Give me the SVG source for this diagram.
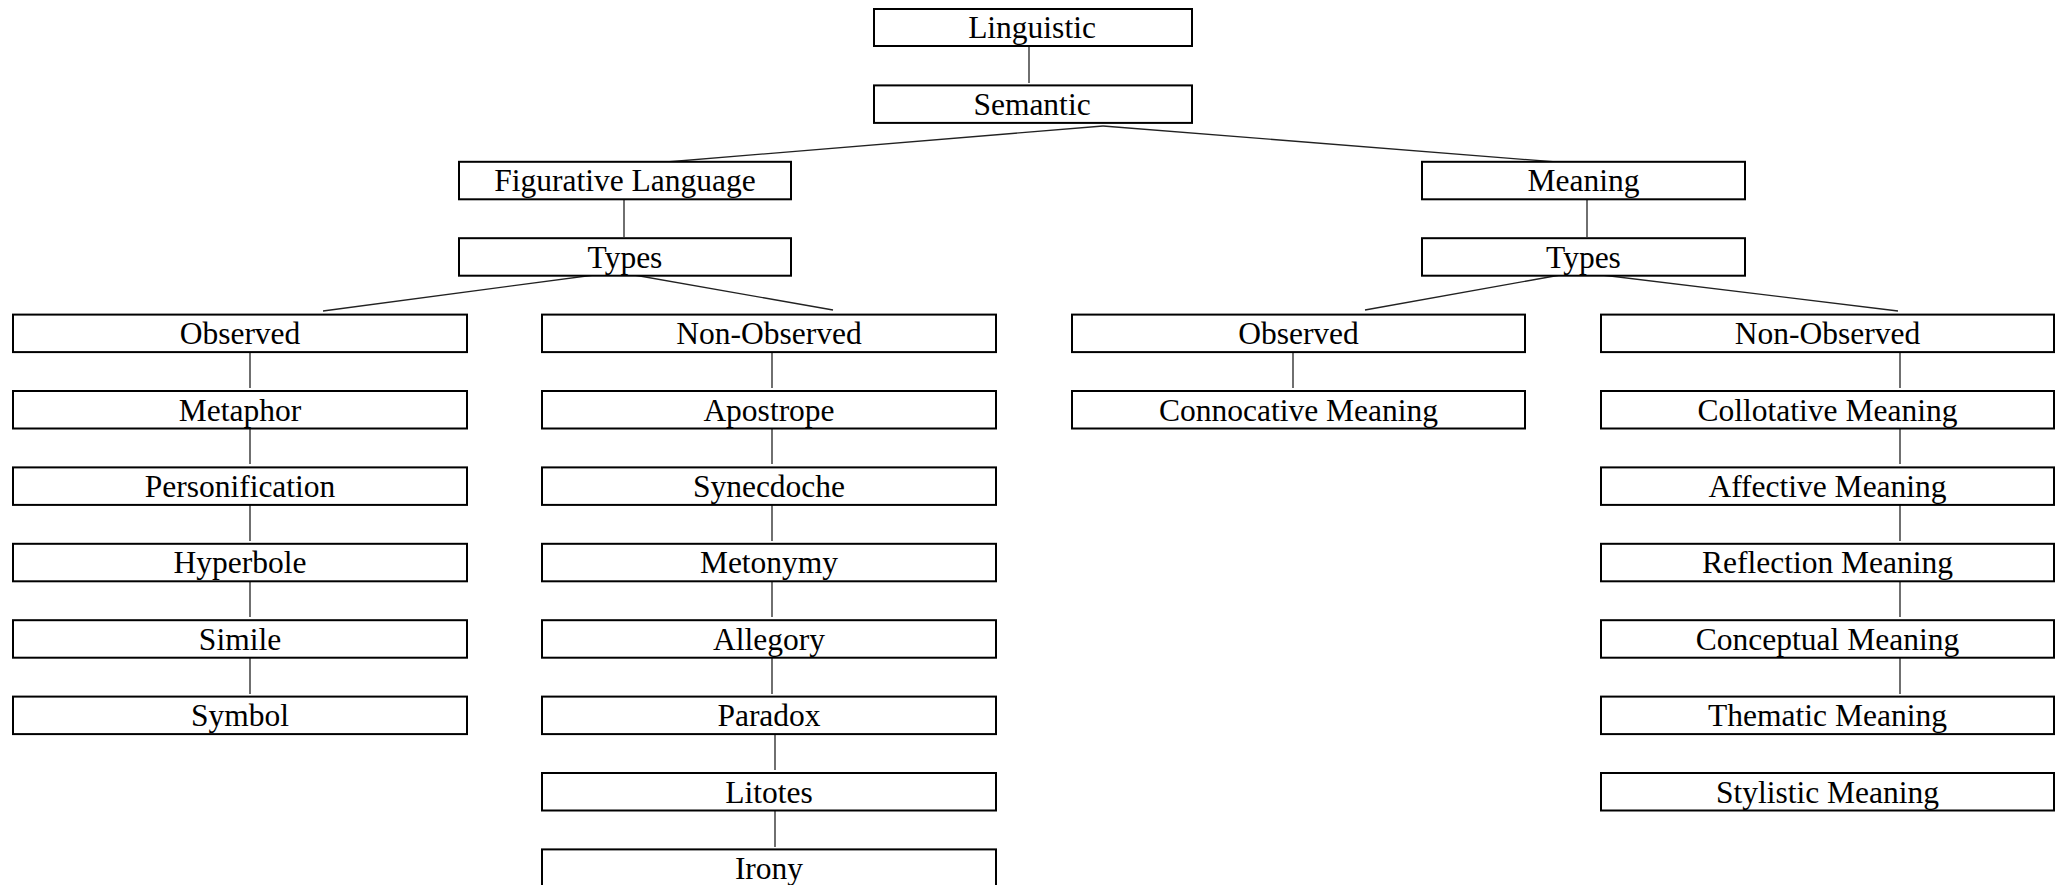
<svg xmlns="http://www.w3.org/2000/svg" width="2067" height="885" viewBox="0 0 2067 885">
<style>
rect.n{fill:#fff;stroke:#000;stroke-width:2}
text{font-family:"Liberation Serif","Times New Roman",serif;font-size:31.5px;fill:#000;text-anchor:middle}
#connectors line{stroke:#222;stroke-width:1.3;fill:none}
</style>
<rect width="2067" height="885" fill="#fff"/>
<g id="connectors">
<line x1="1029" y1="43" x2="1029" y2="83"/>
<line x1="1103" y1="126" x2="642" y2="164"/>
<line x1="1103" y1="126" x2="1582" y2="164"/>
<line x1="624" y1="198" x2="624" y2="237"/>
<line x1="1587" y1="199" x2="1587" y2="237"/>
<line x1="617" y1="272" x2="323" y2="311"/>
<line x1="617" y1="272" x2="833" y2="310"/>
<line x1="1577" y1="272" x2="1365" y2="310"/>
<line x1="1577" y1="272" x2="1898" y2="311"/>
<line x1="250" y1="350" x2="250" y2="388"/>
<line x1="250" y1="426" x2="250" y2="464"/>
<line x1="250" y1="502" x2="250" y2="541"/>
<line x1="250" y1="579" x2="250" y2="617"/>
<line x1="250" y1="655" x2="250" y2="694"/>
<line x1="772" y1="350" x2="772" y2="388"/>
<line x1="772" y1="426" x2="772" y2="464"/>
<line x1="772" y1="502" x2="772" y2="541"/>
<line x1="772" y1="579" x2="772" y2="617"/>
<line x1="772" y1="655" x2="772" y2="694"/>
<line x1="775" y1="732" x2="775" y2="770"/>
<line x1="775" y1="808" x2="775" y2="847"/>
<line x1="1293" y1="350" x2="1293" y2="388"/>
<line x1="1900" y1="350" x2="1900" y2="388"/>
<line x1="1900" y1="426" x2="1900" y2="464"/>
<line x1="1900" y1="502" x2="1900" y2="541"/>
<line x1="1900" y1="579" x2="1900" y2="617"/>
<line x1="1900" y1="655" x2="1900" y2="694"/>
</g>
<g id="n-linguistic"><rect class="n" x="874" y="9" width="318" height="37"/><text x="1032" y="38">Linguistic</text></g>
<g id="n-semantic"><rect class="n" x="874" y="85.4" width="318" height="37.5"/><text x="1032" y="114.9">Semantic</text></g>
<g id="n-figurative"><rect class="n" x="459" y="161.8" width="332" height="37.5"/><text x="625" y="191.3">Figurative Language</text></g>
<g id="n-types-left"><rect class="n" x="459" y="238.2" width="332" height="37.5"/><text x="625" y="267.7">Types</text></g>
<g id="n-meaning"><rect class="n" x="1422" y="161.8" width="323" height="37.5"/><text x="1583.5" y="191.3">Meaning</text></g>
<g id="n-types-right"><rect class="n" x="1422" y="238.2" width="323" height="37.5"/><text x="1583.5" y="267.7">Types</text></g>

<g id="n-observed-1"><rect class="n" x="13" y="314.6" width="454" height="37.5"/><text x="240" y="344.1">Observed</text></g>
<g id="n-metaphor"><rect class="n" x="13" y="391" width="454" height="37.5"/><text x="240" y="420.5">Metaphor</text></g>
<g id="n-personification"><rect class="n" x="13" y="467.4" width="454" height="37.5"/><text x="240" y="496.9">Personification</text></g>
<g id="n-hyperbole"><rect class="n" x="13" y="543.8" width="454" height="37.5"/><text x="240" y="573.3">Hyperbole</text></g>
<g id="n-simile"><rect class="n" x="13" y="620.2" width="454" height="37.5"/><text x="240" y="649.7">Simile</text></g>
<g id="n-symbol"><rect class="n" x="13" y="696.6" width="454" height="37.5"/><text x="240" y="726.1">Symbol</text></g>

<g id="n-nonobserved-1"><rect class="n" x="542" y="314.6" width="454" height="37.5"/><text x="769" y="344.1">Non-Observed</text></g>
<g id="n-apostrope"><rect class="n" x="542" y="391" width="454" height="37.5"/><text x="769" y="420.5">Apostrope</text></g>
<g id="n-synecdoche"><rect class="n" x="542" y="467.4" width="454" height="37.5"/><text x="769" y="496.9">Synecdoche</text></g>
<g id="n-metonymy"><rect class="n" x="542" y="543.8" width="454" height="37.5"/><text x="769" y="573.3">Metonymy</text></g>
<g id="n-allegory"><rect class="n" x="542" y="620.2" width="454" height="37.5"/><text x="769" y="649.7">Allegory</text></g>
<g id="n-paradox"><rect class="n" x="542" y="696.6" width="454" height="37.5"/><text x="769" y="726.1">Paradox</text></g>
<g id="n-litotes"><rect class="n" x="542" y="773" width="454" height="37.5"/><text x="769" y="802.5">Litotes</text></g>
<g id="n-irony"><rect class="n" x="542" y="849.4" width="454" height="40"/><text x="769" y="878.9">Irony</text></g>

<g id="n-observed-2"><rect class="n" x="1072" y="314.6" width="453" height="37.5"/><text x="1298.5" y="344.1">Observed</text></g>
<g id="n-connocative"><rect class="n" x="1072" y="391" width="453" height="37.5"/><text x="1298.5" y="420.5">Connocative Meaning</text></g>

<g id="n-nonobserved-2"><rect class="n" x="1601" y="314.6" width="453" height="37.5"/><text x="1827.5" y="344.1">Non-Observed</text></g>
<g id="n-collotative"><rect class="n" x="1601" y="391" width="453" height="37.5"/><text x="1827.5" y="420.5">Collotative Meaning</text></g>
<g id="n-affective"><rect class="n" x="1601" y="467.4" width="453" height="37.5"/><text x="1827.5" y="496.9">Affective Meaning</text></g>
<g id="n-reflection"><rect class="n" x="1601" y="543.8" width="453" height="37.5"/><text x="1827.5" y="573.3">Reflection Meaning</text></g>
<g id="n-conceptual"><rect class="n" x="1601" y="620.2" width="453" height="37.5"/><text x="1827.5" y="649.7">Conceptual Meaning</text></g>
<g id="n-thematic"><rect class="n" x="1601" y="696.6" width="453" height="37.5"/><text x="1827.5" y="726.1">Thematic Meaning</text></g>
<g id="n-stylistic"><rect class="n" x="1601" y="773" width="453" height="37.5"/><text x="1827.5" y="802.5">Stylistic Meaning</text></g>
</svg>
